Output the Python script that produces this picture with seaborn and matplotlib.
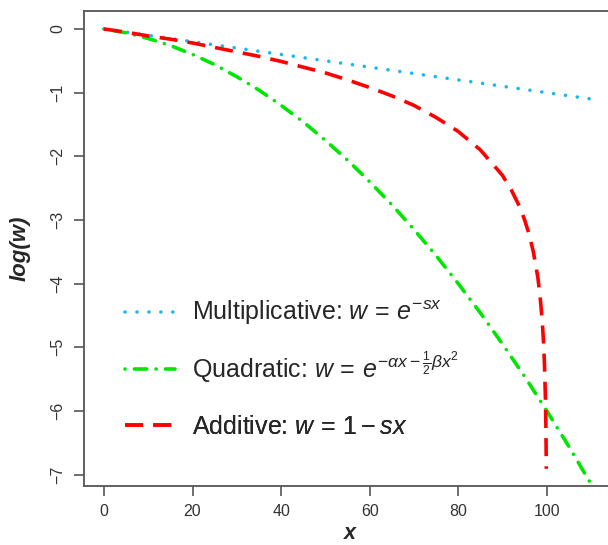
import matplotlib
matplotlib.use("Agg")
import matplotlib.pyplot as plt
import seaborn as sns
import pandas as pd

# values
mult_x = [0, 111]
mult_y = [0, -1.11]

quad_x = [0, 5, 10, 15, 20, 25, 30, 35, 40, 45, 50, 55, 60, 65, 70, 75, 80, 85, 90, 95, 100, 105, 110, 111]
quad_y = [0, -0.06, -0.15, -0.26, -0.40, -0.56, -0.75, -0.96, -1.20, -1.46, -1.75, -2.06, -2.40, -2.76,
          -3.15, -3.56, -4.00, -4.46, -4.95, -5.46, -6.00, -6.56, -7.15, -7.27]

add_x = [0, 5, 10, 15, 20, 25, 30, 35, 40, 45, 50, 55, 60, 65, 70, 75, 80, 85, 90, 92, 94, 95, 96, 97,
         98, 98.5, 99, 99.3, 99.5, 99.7, 99.8, 99.9]
add_y = [0, -0.05, -0.11, -0.16, -0.22, -0.29, -0.36, -0.43, -0.51, -0.60, -0.69, -0.80, -0.92, -1.05,
         -1.20, -1.39, -1.61, -1.90, -2.30, -2.53, -2.81, -3.00, -3.22, -3.51, -3.91, -4.20, -4.61,
         -4.96, -5.30, -5.81, -6.21, -6.91]

labels = [
    r"Multiplicative: $w \,=\, e^{-sx}$",
    r"Quadratic: $w \,=\, e^{-\alpha x - \frac{1}{2}\beta x^2}$",
    r"Additive: $w \,=\, 1 - sx$",
]

sns.set_style("ticks")
plt.rcParams["font.family"] = ["Liberation Sans", "DejaVu Sans"]
plt.rcParams["mathtext.fontset"] = "custom"
plt.rcParams["mathtext.rm"] = "Liberation Sans"
plt.rcParams["mathtext.it"] = "Liberation Sans:italic"
plt.rcParams["mathtext.bf"] = "Liberation Sans:bold"

fig = plt.figure(figsize=(6.08, 5.45), dpi=100)
ax = fig.add_axes([0.1387, 0.1083, 0.873, 0.871])

mult_df = pd.DataFrame({"x": mult_x, "y": mult_y})
quad_df = pd.DataFrame({"x": quad_x, "y": quad_y})
add_df = pd.DataFrame({"x": add_x, "y": add_y})

lw = 2.6
sns.lineplot(data=mult_df, x="x", y="y", ax=ax, color="#1AB8F2", lw=lw,
             linestyle=(0, (0.01, 3.3)), dash_capstyle="round", label=labels[0])
sns.lineplot(data=quad_df, x="x", y="y", ax=ax, color="#00E600", lw=lw,
             linestyle=(0, (0.01, 2.6, 3.4, 2.6)), dash_capstyle="round", label=labels[1])
sns.lineplot(data=add_df, x="x", y="y", ax=ax, color="#FF0000", lw=lw,
             linestyle=(0, (5.0, 2.8)), label=labels[2])

ax.set_xlim(-4.44, 115.44)
ax.set_ylim(-7.18, 0.278)
ax.set_xticks([0, 20, 40, 60, 80, 100])
ax.set_yticks([0, -1, -2, -3, -4, -5, -6, -7])

for s in ax.spines.values():
    s.set_color("#555555")
    s.set_linewidth(1.3)
ax.tick_params(axis="both", length=7, width=1.2, color="#555555", labelsize=11.5,
               labelcolor="#333333")
ax.tick_params(axis="x", pad=6)
ax.tick_params(axis="y", labelrotation=90, pad=7)
for t in ax.get_yticklabels():
    t.set_va("center")

ax.set_xlabel("x", fontsize=15.5, fontweight="bold", fontstyle="italic")
ax.set_ylabel("log(w)", fontsize=16, fontweight="bold", fontstyle="italic")
ax.xaxis.set_label_coords(0.5, -0.1117)
ax.xaxis.label.set_verticalalignment("baseline")
ax.yaxis.set_label_coords(-0.121, 0.5)
ax.yaxis.label.set_verticalalignment("center")

# one legend per entry so each row sits where it does in the reference
handles, texts = ax.get_legend_handles_labels()
ax.get_legend().remove()
row_y = [313, 367, 427]
for h, t, ry in zip(handles, texts, row_y):
    leg = ax.legend([h], [t], loc="center left", bbox_to_anchor=(125 / 608, 1 - ry / 545),
                    bbox_transform=fig.transFigure, frameon=False, fontsize=18,
                    handlelength=2.0, handletextpad=0.7, borderpad=0, borderaxespad=0)
    ax.add_artist(leg)

fig.savefig("out.png", dpi=100)
